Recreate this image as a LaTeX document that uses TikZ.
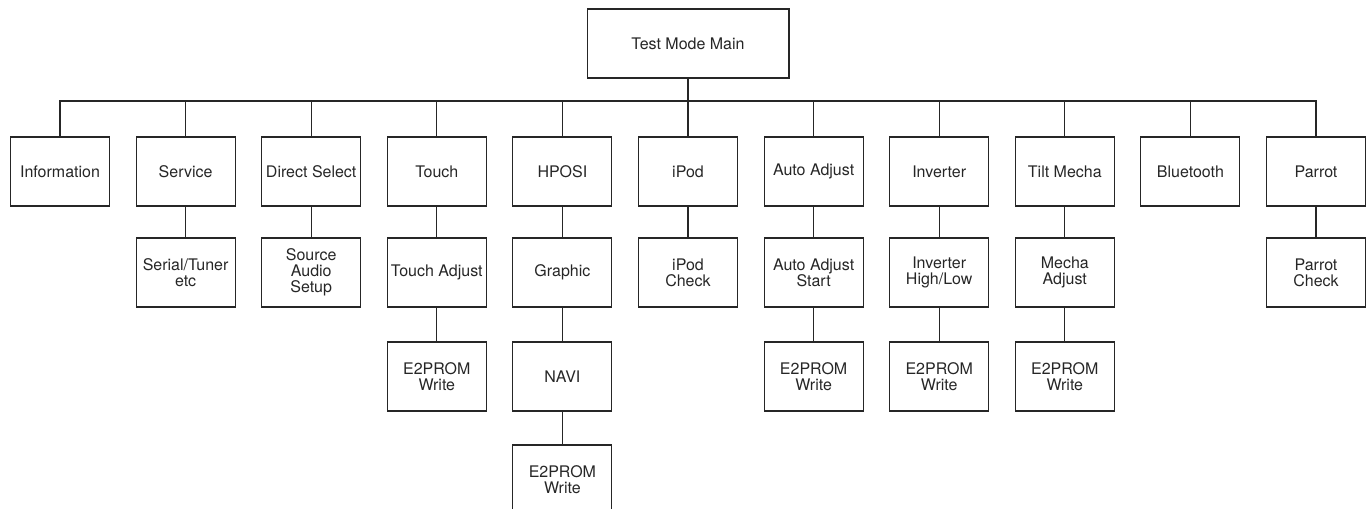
\documentclass[tikz,border=0pt]{standalone}
\usepackage{fontspec}
\setmainfont{TeX Gyre Heros}
\usetikzlibrary{calc}

\tikzset{
    menubox/.style={draw=black!85, line width=0.6pt, minimum width=1.98cm, minimum height=1.38cm,
        inner sep=1pt, align=center, text=black!85, font=\fontsize{9.1}{9}\selectfont},
    wire/.style={draw=black!85, line width=0.6pt}
}

\begin{document}
\begin{tikzpicture}[x=0.02cm, y=-0.02cm]
            % Define the spacing of the columns and rows
            \def\dx{125.6}  % distance between columns
            \def\xa{60}     % first column
            \def\ra{171.5}  % first row
            \def\rb{272.5}  % second row
            \def\rc{376.5}  % third row
            \def\rd{479.5}  % fourth row

            \useasboundingbox (0,0) rectangle (1372,509);
            \clip (0,0) rectangle (1372,509);

            % Top of the menu
            \node[menubox, minimum width=4.04cm] (main) at (688,43.5) {Test Mode Main};
            \coordinate (bus) at (0,101);

            % First row
            \node[menubox] (info)     at ({\xa+0*\dx},\ra) {Information};
            \node[menubox] (service)  at ({\xa+1*\dx},\ra) {Service};
            \node[menubox] (direct)   at ({\xa+2*\dx},\ra) {Direct Select};
            \node[menubox] (touch)    at ({\xa+3*\dx},\ra) {Touch};
            \node[menubox] (hposi)    at ({\xa+4*\dx},\ra) {HPOSI};
            \node[menubox] (ipod)     at ({\xa+5*\dx},\ra) {iPod};
            \node[menubox] (auto)     at ({\xa+6*\dx},\ra) {Auto Adjust};
            \node[menubox] (inverter) at ({\xa+7*\dx},\ra) {Inverter};
            \node[menubox] (tilt)     at ({\xa+8*\dx},\ra) {Tilt Mecha};
            \node[menubox] (bt)       at ({\xa+9*\dx},\ra) {Bluetooth};
            \node[menubox] (parrot)   at ({\xa+10*\dx},\ra) {Parrot};

            % Second row
            \node[menubox] (serial)     at ({\xa+1*\dx},\rb) {Serial/Tuner\\etc};
            \node[menubox] (source)     at ({\xa+2*\dx},\rb) {Source\\Audio\\Setup};
            \node[menubox] (touchadj)   at ({\xa+3*\dx},\rb) {Touch Adjust};
            \node[menubox] (graphic)    at ({\xa+4*\dx},\rb) {Graphic};
            \node[menubox] (ipodcheck)  at ({\xa+5*\dx},\rb) {iPod\\Check};
            \node[menubox] (autostart)  at ({\xa+6*\dx},\rb) {Auto Adjust\\Start};
            \node[menubox] (invhl)      at ({\xa+7*\dx},\rb) {Inverter\\High/Low};
            \node[menubox] (mechaadj)   at ({\xa+8*\dx},\rb) {Mecha\\Adjust};
            \node[menubox] (parrotcheck) at ({\xa+10*\dx},\rb) {Parrot\\Check};

            % Third row
            \node[menubox] (touchw) at ({\xa+3*\dx},\rc) {E2PROM\\Write};
            \node[menubox] (navi)   at ({\xa+4*\dx},\rc) {NAVI};
            \node[menubox] (autow)  at ({\xa+6*\dx},\rc) {E2PROM\\Write};
            \node[menubox] (invw)   at ({\xa+7*\dx},\rc) {E2PROM\\Write};
            \node[menubox] (mechaw) at ({\xa+8*\dx},\rc) {E2PROM\\Write};

            % Fourth row
            \node[menubox] (naviw) at ({\xa+4*\dx},\rd) {E2PROM\\Write};

            % Draw the bus
            \draw[wire] (main.south) -- (main.south |- bus);
            \draw[wire] (info.north) |- (bus -| parrot.north) -- (parrot.north);
            \foreach \n in {service,direct,touch,hposi,ipod,auto,inverter,tilt,bt}
                \draw[wire] (\n.north) -- (\n.north |- bus);

            % Draw the branches
            \foreach \a/\b in {service/serial, direct/source, touch/touchadj, touchadj/touchw,
                hposi/graphic, graphic/navi, navi/naviw, ipod/ipodcheck, auto/autostart,
                autostart/autow, inverter/invhl, invhl/invw, tilt/mechaadj, mechaadj/mechaw,
                parrot/parrotcheck}
                \draw[wire] (\a.south) -- (\b.north);

        \end{tikzpicture}
\end{document}
